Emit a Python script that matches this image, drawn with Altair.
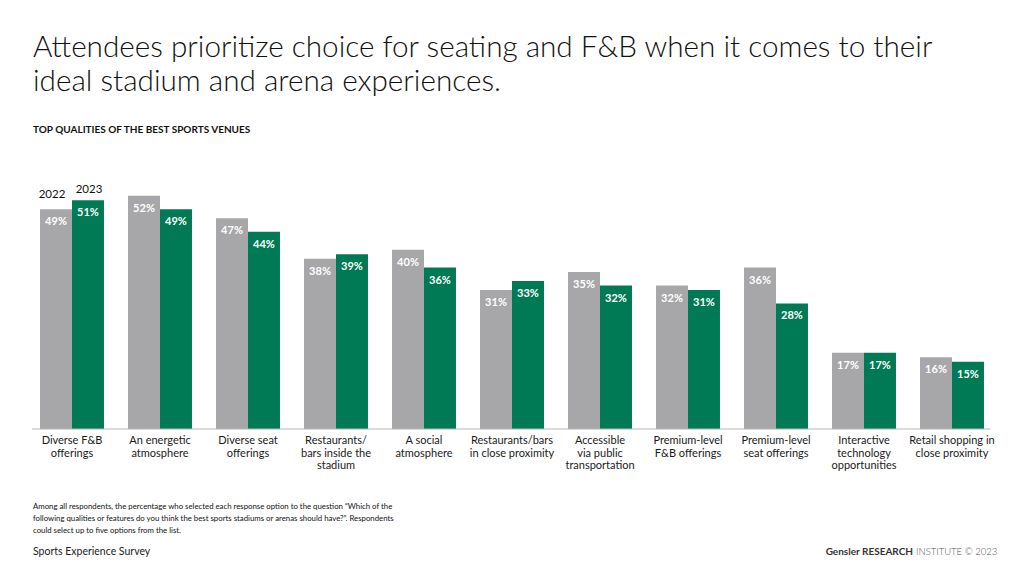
import altair as alt
import pandas as pd

categories = [
    "Diverse F&B\nofferings",
    "An energetic\natmosphere",
    "Diverse seat\nofferings",
    "Restaurants/\nbars inside the\nstadium",
    "A social\natmosphere",
    "Restaurants/bars\nin close proximity",
    "Accessible\nvia public\ntransportation",
    "Premium-level\nF&B offerings",
    "Premium-level\nseat offerings",
    "Interactive\ntechnology\nopportunities",
    "Retail shopping in\nclose proximity",
]
years = ["2022", "2023"]
values_2022 = [49, 52, 47, 38, 40, 31, 35, 32, 36, 17, 16]
values_2023 = [51, 49, 44, 39, 36, 33, 32, 31, 28, 17, 15]

title_lines = [
    "Attendees prioritize choice for seating and F&B when it comes to their",
    "ideal stadium and arena experiences.",
]
subtitle = "TOP QUALITIES OF THE BEST SPORTS VENUES"
footnote = [
    "Among all respondents, the percentage who selected each response option to the question \u201cWhich of the",
    "following qualities or features do you think the best sports stadiums or arenas should have?\u201d. Respondents",
    "could select up to five options from the list.",
]
source = "Sports Experience Survey"

GRAY = "#a7a7a9"
GREEN = "#007a55"
FONT = "Lato"

rows = []
for i, c in enumerate(categories):
    rows.append({"cat": c, "year": "2022", "value": values_2022[i], "order": i})
    rows.append({"cat": c, "year": "2023", "value": values_2023[i], "order": i})
df = pd.DataFrame(rows)
df["label"] = df["value"].astype(str) + "%"

W, H = 968, 269
xscale = alt.Scale(domain=categories, paddingInner=0.273, paddingOuter=0.1365)
yscale = alt.Scale(domain=[0, 60])
xo = alt.XOffset("year:N", scale=alt.Scale(domain=years))

base = alt.Chart(df)

bars = base.mark_bar().encode(
    x=alt.X("cat:N", scale=xscale, sort=categories, axis=None),
    xOffset=xo,
    y=alt.Y("value:Q", scale=yscale, axis=None),
    color=alt.Color("year:N", scale=alt.Scale(domain=years, range=[GRAY, GREEN]), legend=None),
)

baseline = alt.Chart(pd.DataFrame({"v": [0]})).mark_rule(color="#b5b5b5", strokeWidth=1).encode(
    x=alt.value(4), x2=alt.value(W - 6), y=alt.Y("v:Q", scale=yscale)
)

vlabels = base.mark_text(color="white", font=FONT, fontWeight="bold", fontSize=11,
                         baseline="middle", dy=13).encode(
    x=alt.X("cat:N", scale=xscale, sort=categories),
    xOffset=xo,
    y=alt.Y("value:Q", scale=yscale),
    text="label:N",
)

year_layers = []
for yr, dx, dy in [("2022", -4, -9), ("2023", 1, -5)]:
    ydf = df[(df["order"] == 0) & (df["year"] == yr)]
    year_layers.append(
        alt.Chart(ydf).mark_text(color="#111111", font=FONT, fontSize=11.5,
                                 baseline="bottom", dx=dx, dy=dy).encode(
            x=alt.X("cat:N", scale=xscale, sort=categories),
            xOffset=xo,
            y=alt.Y("value:Q", scale=yscale),
            text="year:N",
        )
    )

cat_df = pd.DataFrame({"cat": categories})
clabels = alt.Chart(cat_df).mark_text(color="#1a1a1a", font=FONT, fontSize=11,
                                      baseline="top", lineBreak="\n", lineHeight=12.5,
                                      align="center").encode(
    x=alt.X("cat:N", scale=xscale, sort=categories),
    y=alt.value(H + 6),
    text="cat:N",
)

def txt(s, x, y, size, weight="normal", color="#111111", align="left", baseline="alphabetic"):
    return alt.Chart(pd.DataFrame({"t": [s]})).mark_text(
        font=FONT, fontSize=size, fontWeight=weight, color=color, align=align,
        baseline=baseline,
    ).encode(x=alt.value(x), y=alt.value(y), text="t:N")

PL, PT = 28, 160
annots = [
    txt(title_lines[0], 33 - PL, 57 - PT, 29.7, weight=300),
    txt(title_lines[1], 33 - PL, 91 - PT, 29.7, weight=300),
    txt(subtitle, 33 - PL, 133 - PT, 10, weight="bold"),
    txt(footnote[0], 33 - PL, 509 - PT, 7.8),
    txt(footnote[1], 33 - PL, 521 - PT, 7.8),
    txt(footnote[2], 33 - PL, 533 - PT, 7.8),
    txt(source, 33 - PL, 555 - PT, 10.5, color="#222222"),
    txt("INSTITUTE \u00a9 2023", 916 - PL, 555 - PT, 9.5, color="#555555", weight=300),
    txt("Gensler RESEARCH", 913 - PL, 555 - PT, 10, weight="bold", color="#333333", align="right"),
]

chart = alt.layer(bars, baseline, vlabels, *year_layers, clabels, *annots).properties(
    width=W, height=H,
    background="white",
    autosize=alt.AutoSizeParams(type="none"),
    padding={"left": PL, "top": PT, "right": 1024 - PL - W, "bottom": 576 - PT - H},
).configure_view(strokeWidth=0, stroke=None)

chart.save("out.html", embed_options={"renderer": "svg", "actions": False})
